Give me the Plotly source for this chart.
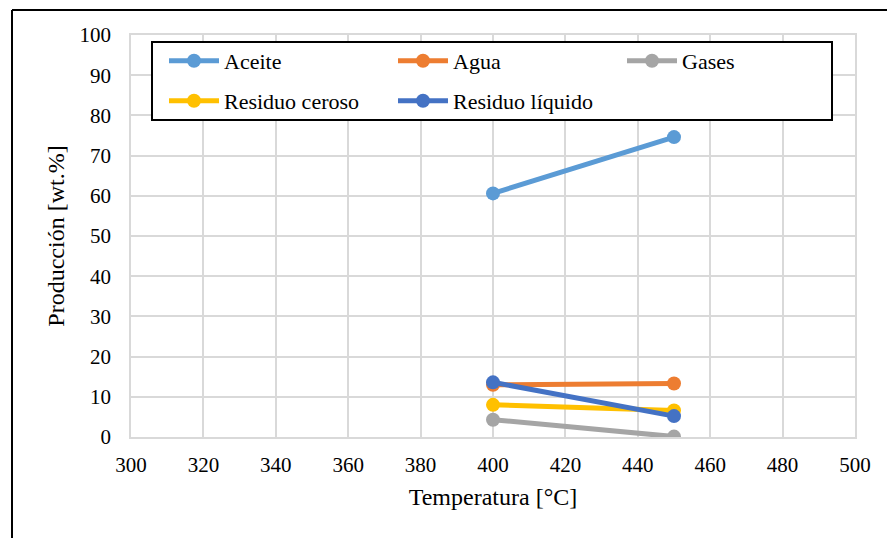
import plotly.graph_objects as go

temps = [400, 450]
aceite = [60.6, 74.6]
agua = [13.0, 13.3]
gases = [4.3, 0.1]
residuo_ceroso = [8.0, 6.6]
residuo_liquido = [13.6, 5.2]

series = [
    ("Aceite", aceite, "#5B9BD5", "legend"),
    ("Agua", agua, "#ED7D31", "legend"),
    ("Gases", gases, "#A5A5A5", "legend"),
    ("Residuo ceroso", residuo_ceroso, "#FFC000", "legend2"),
    ("Residuo líquido", residuo_liquido, "#4472C4", "legend2"),
]

fig = go.Figure()
for name, vals, col, lg in series:
    fig.add_trace(go.Scatter(x=temps, y=vals, name=name, mode="lines+markers",
                             line=dict(color=col, width=5),
                             marker=dict(color=col, size=14), legend=lg))

L, R, T, B = 131, 32, 35, 101
W, H = 887, 538
pw, ph = W - L - R, H - T - B

def px_x(x):
    return (x - L) / pw

def px_y(y):
    return (H - B - y) / ph

font = "Liberation Serif, Times New Roman, serif"
grid = "#D9D9D9"

leg_common = dict(orientation="h", xanchor="left", yanchor="middle",
                  bgcolor="rgba(0,0,0,0)", borderwidth=0,
                  font=dict(family=font, size=22, color="#000"),
                  itemwidth=50, entrywidth=164)

fig.update_layout(
    width=W, height=H,
    margin=dict(l=L, r=R, t=T, b=B),
    paper_bgcolor="white", plot_bgcolor="white",
    font=dict(family=font, size=21, color="#000000"),
    showlegend=True,
    legend=dict(x=px_x(164), y=px_y(61), **leg_common),
    legend2=dict(x=px_x(164), y=px_y(101), **leg_common),
    xaxis=dict(range=[300, 500], dtick=20, tick0=300, showgrid=True, gridcolor=grid, gridwidth=1.5,
               showline=True, linecolor=grid, linewidth=1.5, mirror=True, zeroline=False,
               ticks="outside", ticklen=8, tickcolor="rgba(0,0,0,0)",
               tickfont=dict(family=font, size=21),
               title=dict(text="Temperatura [°C]", font=dict(family=font, size=24), standoff=12)),
    yaxis=dict(range=[0, 100], dtick=10, showgrid=True, gridcolor=grid, gridwidth=1.5,
               showline=True, linecolor=grid, linewidth=1.5, mirror=True, zeroline=False,
               ticks="outside", ticklen=14, tickcolor="rgba(0,0,0,0)",
               tickfont=dict(family=font, size=21),
               title=dict(text="Producción [wt.%]", font=dict(family=font, size=24), standoff=8)),
    shapes=[
        dict(type="rect", xref="paper", yref="paper", x0=px_x(152), x1=px_x(832), y0=px_y(120), y1=px_y(42),
             line=dict(color="black", width=2), fillcolor="white", layer="above"),
        dict(type="line", xref="paper", yref="paper", x0=px_x(12), x1=px_x(12), y0=px_y(10), y1=px_y(560),
             line=dict(color="black", width=2)),
        dict(type="line", xref="paper", yref="paper", x0=px_x(12), x1=px_x(900), y0=px_y(10), y1=px_y(10),
             line=dict(color="black", width=2)),
    ],
)

fig.write_html("out.html")
